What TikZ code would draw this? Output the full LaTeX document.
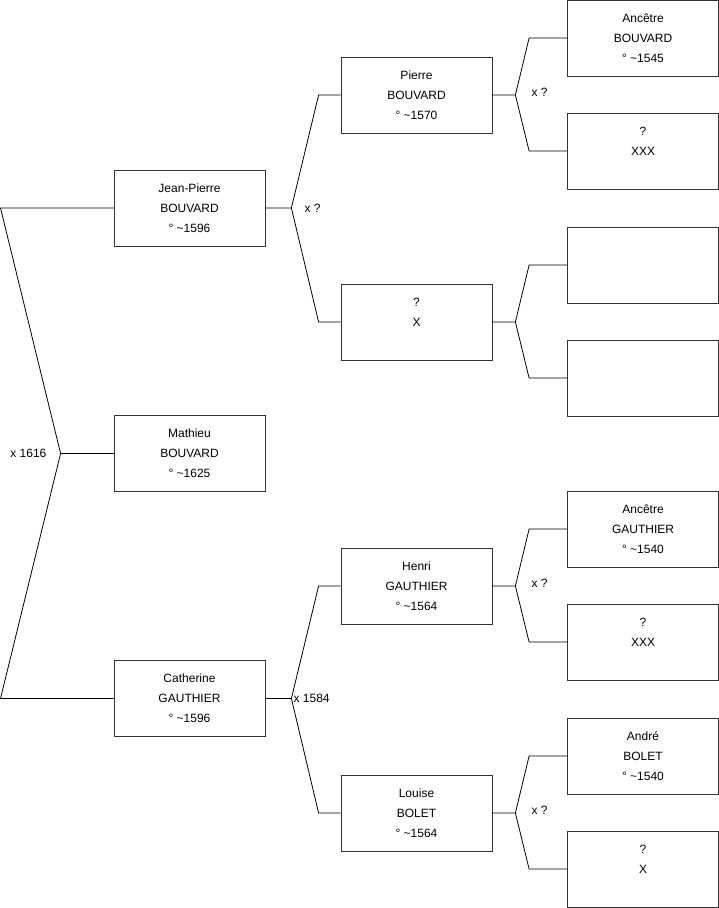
\documentclass[tikz,border=0pt]{standalone}
\usepackage{fontspec}
\setmainfont{Liberation Sans}
\usetikzlibrary{calc}

\begin{document}
\begin{tikzpicture}[x=1pt,y=-1pt,every node/.style={font=\fontsize{12}{20}\selectfont},
      p/.style={draw=black!80,line width=0.8pt,fill=white,minimum width=151pt,minimum height=76pt,inner sep=0pt,align=center},
      lnk/.style={draw=black,line width=0.8pt},
      lbl/.style={anchor=west,inner sep=0pt}]
      \useasboundingbox (0,0) rectangle (719,908);
      % first column
      \node[p] (jp) at (189.5,208) {Jean-Pierre\\BOUVARD\\° \textasciitilde1596};
      \node[p] (mt) at (189.5,453.5) {Mathieu\\BOUVARD\\° \textasciitilde1625};
      \node[p] (ca) at (189.5,698.5) {Catherine\\GAUTHIER\\° \textasciitilde1596};
      % parents
      \node[p] (pi) at (416.5,95) {Pierre\\BOUVARD\\° \textasciitilde1570};
      \node[p] (qx) at (416.5,322) {?\\X\\\mbox{}};
      \node[p] (he) at (416.5,586) {Henri\\GAUTHIER\\° \textasciitilde1564};
      \node[p] (lo) at (416.5,813) {Louise\\BOLET\\° \textasciitilde1564};
      % grandparents
      \node[p] (ab) at (643,38) {Ancêtre\\BOUVARD\\° \textasciitilde1545};
      \node[p] (xb) at (643,151) {?\\XXX\\\mbox{}};
      \node[p] (e1) at (643,265) {};
      \node[p] (e2) at (643,378) {};
      \node[p] (ag) at (643,529) {Ancêtre\\GAUTHIER\\° \textasciitilde1540};
      \node[p] (xg) at (643,642) {?\\XXX\\\mbox{}};
      \node[p] (an) at (643,756) {André\\BOLET\\° \textasciitilde1540};
      \node[p] (qb) at (643,869) {?\\X\\\mbox{}};
      % brackets
      \foreach \a/\b/\c/\o/\i in {jp/pi/qx/26/22,ca/he/lo/26/22,pi/ab/xb/23/38,qx/e1/e2/23/38,he/ag/xg/23/38,lo/an/qb/23/38}{
        \draw[lnk] (\a.east) -- ++(\o,0) coordinate (j\a) -- ($(\b.west)+(-\i,0)$) -- (\b.west);
        \draw[lnk] (j\a) -- ($(\c.west)+(-\i,0)$) -- (\c.west);
      }
      \coordinate (o) at (0.5,0);
      \coordinate (m0) at ($(mt.west)+(-53,0)$);
      \draw[lnk] (jp.west) -- (jp.west -| o) -- (m0) -- (ca.west -| o) -- (ca.west);
      \draw[lnk] (m0) -- (mt.west);
      % marriages
      \node[lbl,anchor=east] (x0) at ($(m0)+(-14,0)$) {x 1616};
      \node[lbl] (x1) at ($(jjp)+(13,0)$) {x ?};
      \node[lbl] (x2) at ($(jca)+(2,0)$) {x 1584};
      \node[lbl] (x3) at ($(jpi)+(16,-3)$) {x ?};
      \node[lbl] (x4) at ($(jhe)+(16,-3)$) {x ?};
      \node[lbl] (x5) at ($(jlo)+(16,-3)$) {x ?};
    \end{tikzpicture}
\end{document}
